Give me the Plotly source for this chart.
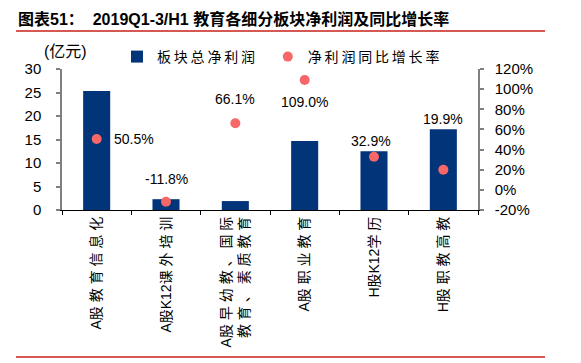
import plotly.graph_objects as go

# ---------------- data ----------------
categories = ["A股教育信息化", "A股K12课外培训", "A股早幼教、国际\n教育、素质教育",
              "A股职业教育", "H股K12学历", "H股职教高教"]
profit = [25.3, 2.3, 1.9, 14.7, 12.5, 17.2]          # 亿元
growth = [50.5, -11.8, 66.1, 109.0, 32.9, 19.9]       # %
growth_text = ["50.5%", "-11.8%", "66.1%", "109.0%", "32.9%", "19.9%"]
series_names = ["板块总净利润", "净利润同比增长率"]
left_ticks = [0, 5, 10, 15, 20, 25, 30]
right_ticks = [-20, 0, 20, 40, 60, 80, 100, 120]

# ---------------- style ----------------
OFF = 8                      # default body margin of the html page
W, H = 581 - OFF, 363 - OFF
L, R, T, B = 62, 478, 69, 210   # plot area in page pixels
BAR_COLOR = "#02347A"
DOT_COLOR = "#F76767"
RED_LINE = "#C8201A"
LATIN = "Liberation Sans, Arial, Noto Sans CJK SC, sans-serif"
CJK = "Liberation Sans, Noto Sans CJK SC, sans-serif"
NBSP = "\u00a0"

# label offsets (px): (xshift, yshift, xanchor)
label_offsets = [(15, 0, "left"), (0, 23, "center"), (0, 24, "center"),
                 (0, -22, "center"), (-3, 16, "center"), (0, 51, "center")]


def is_cjk(ch):
    return ord(ch) > 0x2E80


def spaced(s, sep=" "):
    """widen CJK text a little, like the letter-spaced original"""
    out = []
    for i, ch in enumerate(s):
        out.append(ch)
        if i < len(s) - 1 and is_cjk(ch) and is_cjk(s[i + 1]):
            out.append(sep)
    return "".join(out).replace("\n", "<br>")


def px_x(px):
    """page pixel -> paper x"""
    return (px - L) / (R - L)


def px_y(py):
    """page pixel -> paper y"""
    return (B - py) / (B - T)


cat_labels = [spaced(c) for c in categories]

fig = go.Figure()
fig.add_trace(go.Bar(
    x=cat_labels, y=profit, name=spaced(series_names[0], "\u2009") + NBSP * 2,
    marker=dict(color=BAR_COLOR, line=dict(width=0)), width=0.39,
    yaxis="y",
))
fig.add_trace(go.Scatter(
    x=cat_labels, y=growth, name=spaced(series_names[1], "\u2009"), mode="markers",
    marker=dict(color=DOT_COLOR, size=10, line=dict(width=0)),
    yaxis="y2",
))

for c, g, t, (xs, ys, xa) in zip(cat_labels, growth, growth_text, label_offsets):
    fig.add_annotation(x=c, y=g, yref="y2", text=t, showarrow=False,
                       xshift=xs, yshift=ys, xanchor=xa, yanchor="middle",
                       font=dict(family=LATIN, size=14, color="#000000"))

# title and unit
fig.add_annotation(xref="paper", yref="paper", x=px_x(16), y=px_y(19),
                   xanchor="left", yanchor="middle", showarrow=False,
                   text="<b>图表51：  2019Q1-3/H1 教育各细分板块净利润及同比增长率</b>",
                   font=dict(family=CJK, size=16, color="#000000"))
fig.add_annotation(xref="paper", yref="paper", x=px_x(65), y=px_y(51),
                   xanchor="center", yanchor="middle", showarrow=False,
                   text="(亿元)", font=dict(family=CJK, size=16, color="#000000"))

# red rule lines
for py in (31, 357):
    fig.add_shape(type="line", xref="paper", yref="paper",
                  x0=px_x(16), x1=px_x(545), y0=px_y(py), y1=px_y(py),
                  line=dict(color=RED_LINE, width=1.5))

axis_common = dict(showgrid=False, zeroline=False, showline=True,
                   linecolor="#808080", linewidth=1.5, ticks="outside",
                   ticklen=4, tickcolor="#808080", tickwidth=1.5,
                   automargin=False,
                   tickfont=dict(family=LATIN, size=15, color="#000000"))

fig.update_layout(
    width=W, height=H,
    margin=dict(l=L - OFF, r=W - (R - OFF), t=T - OFF, b=H - (B - OFF),
                pad=0, autoexpand=False),
    paper_bgcolor="white", plot_bgcolor="white",
    showlegend=True,
    legend=dict(orientation="h", x=px_x(117), y=px_y(57), xanchor="left",
                yanchor="middle", font=dict(family=CJK, size=14, color="#000000"),
                bgcolor="rgba(0,0,0,0)", itemclick=False),
    xaxis=dict(type="category", range=[-0.5, 5.5], showline=True,
               linecolor="#000000", linewidth=1.2, ticks="outside",
               tickson="boundaries", ticklen=4, tickcolor="#000000",
               tickangle=-90, showgrid=False, automargin=False,
               tickfont=dict(family=CJK, size=14, color="#000000")),
    yaxis=dict(range=[0, 30], tickvals=left_ticks, ticklabelstandoff=12,
               **axis_common),
    yaxis2=dict(range=[-20, 120], tickvals=right_ticks,
                ticktext=[f"{v}%" for v in right_ticks], overlaying="y",
                side="right", ticklabelstandoff=8, **axis_common),
)

fig.write_html("out.html")
